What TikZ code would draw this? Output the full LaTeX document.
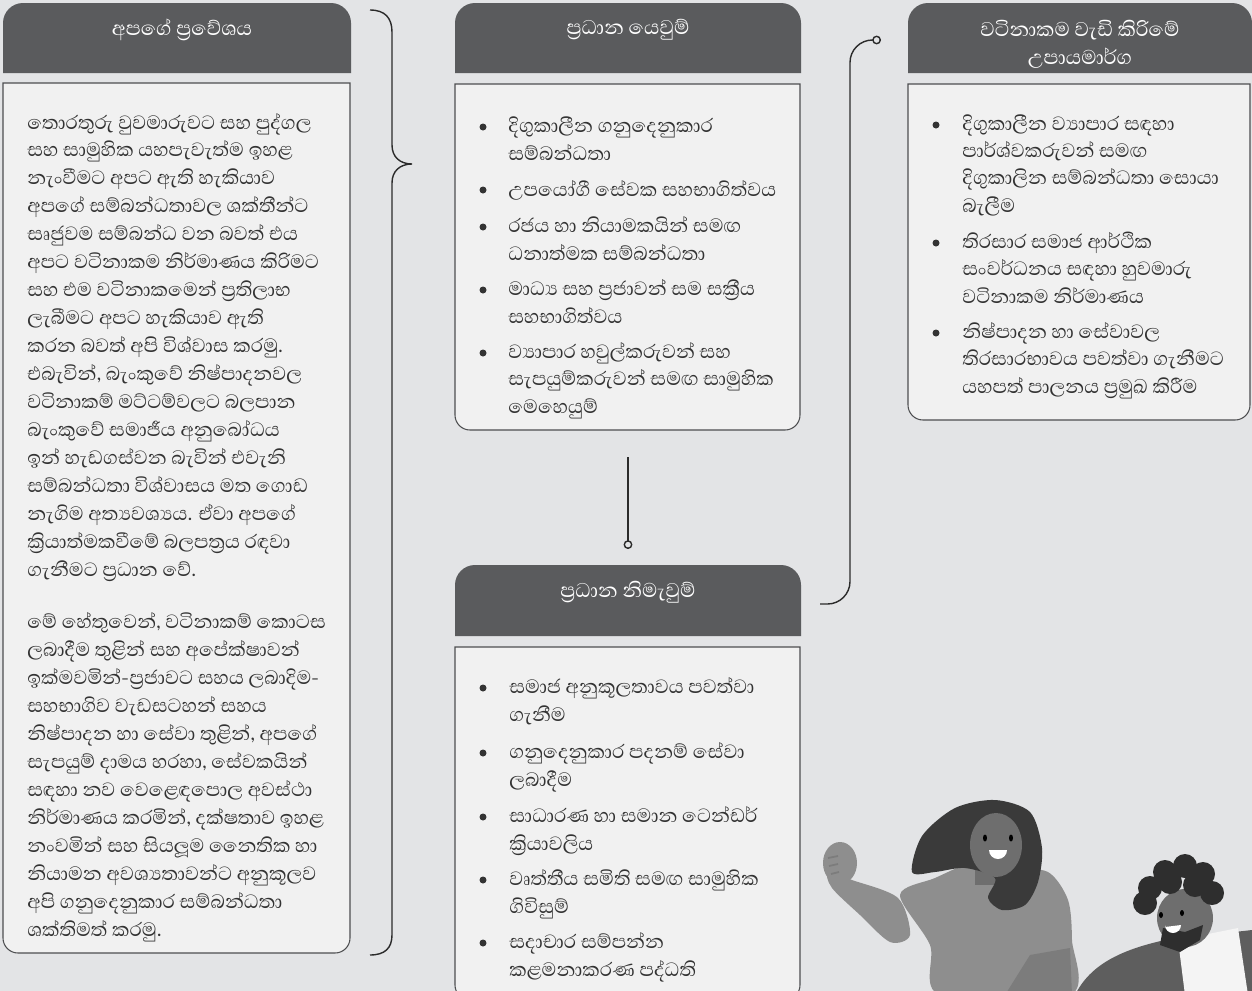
\documentclass[tikz,border=0pt]{standalone}
\usepackage{fontspec}
\usepackage{tikz}
\usetikzlibrary{arrows.meta}

\newfontfamily\sinfont[Script=Sinhala]{Abhaya Libre}

\definecolor{bgcol}{HTML}{E3E4E6}
\definecolor{headcol}{HTML}{5A5B5D}
\definecolor{boxcol}{HTML}{F1F1F1}
\definecolor{edgecol}{HTML}{4D4E50}
\definecolor{textcol}{HTML}{333333}
\definecolor{linecol}{HTML}{2B2B2B}
\definecolor{hairdark}{HTML}{3A3A3A}
\definecolor{skin}{HTML}{6E6E6E}
\definecolor{shirt}{HTML}{8E8E8E}
\definecolor{shirtshade}{HTML}{7C7C7C}
\definecolor{jacket}{HTML}{5E5E5E}
\definecolor{collar}{HTML}{F4F4F4}

% nodes are anchored on the baseline of their last line
\tikzset{
  headtext/.style={text=white, font=\sinfont\fontsize{14.5}{16}\selectfont, align=center, inner sep=0pt},
  bodytext/.style={text=textcol, font=\sinfont\fontsize{14}{15.9}\selectfont, align=left, anchor=base west, inner sep=0pt},
  itemtext/.style={bodytext, font=\sinfont\fontsize{14}{15.4}\selectfont},
  bodybox/.style={fill=boxcol, draw=edgecol, line width=0.6pt},
  connector/.style={draw=linecol, line width=0.8pt},
}

\begin{document}
\begin{tikzpicture}[x=0.02cm, y=-0.02cm]
  \useasboundingbox (0,0) rectangle (1252,991);
  \fill[bgcol] (0,0) rectangle (1252,991);

  % left column: approach
  \fill[headcol] (3,73) [rounded corners=0.4cm] -- (3,3) -- (351,3) [sharp corners] -- (351,73) -- cycle;
  \draw[bodybox] (350,83) -- (3,83) [rounded corners=0.3cm] -- (3,953) -- (350,953) [sharp corners] -- (350,83) -- cycle;
  \node[headtext] (approachhead) at (182,30) {අපගේ ප්‍රවේශය};
  \node[bodytext] (approach1) at (27,576) {තොරතුරු වුවමාරුවට සහ පුද්ගල\\
    සහ සාමුහික යහපැවැත්ම ඉහළ\\
    නැංවීමට අපට ඇති හැකියාව\\
    අපගේ සම්බන්ධතාවල ශක්තීන්ට\\
    සෘජුවම සම්බන්ධ වන බවත් එය\\
    අපට වටිනාකම නිර්මාණය කිරිමට\\
    සහ එම වටිනාකමෙන් ප්‍රතිලාභ\\
    ලැබීමට අපට හැකියාව ඇති\\
    කරන බවත් අපි විශ්වාස කරමු.\\
    එබැවින්, බැංකුවේ නිෂ්පාදනවල\\
    වටිනාකම් මට්ටම්වලට බලපාන\\
    බැංකුවේ සමාජීය අනුබෝධය\\
    ඉන් හැඩගස්වන බැවින් එවැනි\\
    සම්බන්ධතා විශ්වාසය මත ගොඩ\\
    නැගිම අත්‍යවශ්‍යය. ඒවා අපගේ\\
    ක්‍රියාත්මකවීමේ බලපත්‍රය රඳවා\\
    ගැනීමට ප්‍රධාන වේ.};
  \node[bodytext] (approach2) at (27,936) {මේ හේතුවෙන්, වටිනාකම් කොටස\\
    ලබාදීම තුළින් සහ අපේක්ෂාවන්\\
    ඉක්මවමින්-ප්‍රජාවට සහය ලබාදිම-\\
    සහභාගිව වැඩසටහන් සහය\\
    නිෂ්පාදන හා සේවා තුළින්, අපගේ\\
    සැපයුම් දාමය හරහා, සේවකයින්\\
    සඳහා නව වෙළෙඳපොල අවස්ථා\\
    නිර්මාණය කරමින්, දක්ෂතාව ඉහළ\\
    නංවමින් සහ සියලූම නෛතික හා\\
    නියාමන අවශ්‍යතාවන්ට අනුකූලව\\
    අපි ගනුදෙනුකාර සම්බන්ධතා\\
    ශක්තිමත් කරමු.};

  % brace towards the focus areas
  \draw[connector] (370,10) .. controls (385,10) and (392,18) .. (392,32) -- (392,145)
    .. controls (392,157) and (400,164) .. (412,164)
    .. controls (400,164) and (392,171) .. (392,183) -- (392,935)
    .. controls (392,948) and (385,955) .. (370,955);

  % middle column: focus areas
  \fill[headcol] (455,73) [rounded corners=0.4cm] -- (455,3) -- (801,3) [sharp corners] -- (801,73) -- cycle;
  \draw[bodybox] (800,84) -- (455,84) [rounded corners=0.3cm] -- (455,430) -- (800,430) [sharp corners] -- (800,84) -- cycle;
  \node[headtext] (focushead) at (628,30) {ප්‍රධාන යෙවුම්};
  \foreach \y in {127,190,227,290,353}
    \fill[textcol] (483,\y) circle[radius=3.5];
  \node[itemtext] (focus1) at (508,160) {දිගුකාලීන ගනුදෙනුකාර\\ සම්බන්ධතා};
  \node[itemtext] (focus2) at (508,196) {උපයෝගී සේවක සහභාගිත්වය};
  \node[itemtext] (focus3) at (508,260) {රජය හා නියාමකයින් සමඟ\\ ධනාත්මක සම්බන්ධතා};
  \node[itemtext] (focus4) at (508,323) {මාධ්‍ය සහ ප්‍රජාවන් සම සක්‍රීය\\ සහභාගිත්වය};
  \node[itemtext] (focus5) at (508,413) {ව්‍යාපාර හවුල්කරුවන් සහ\\ සැපයුම්කරුවන් සමඟ සාමුහික\\ මෙහෙයුම්};

  % link down to the outcomes
  \coordinate (linktop) at (628,457);
  \coordinate (linkend) at (628,549);
  \draw[connector, -{Circle[open, length=5pt, width=5pt]}] (linktop) -- (linkend);

  % bottom middle: outcomes
  \fill[headcol] (455,636) [rounded corners=0.4cm] -- (455,565) -- (801,565) [sharp corners] -- (801,636) -- cycle;
  \draw[bodybox] (800,647) -- (455,647) [rounded corners=0.3cm] -- (455,1000) -- (800,1000) [sharp corners] -- (800,647) -- cycle;
  \node[headtext] (outcomehead) at (628,592) {ප්‍රධාන නිමැවුම්};
  \foreach \y in {688,753,817,880,943}
    \fill[textcol] (483,\y) circle[radius=3.5];
  \node[itemtext] (outcome1) at (509,721) {සමාජ අනුකූලතාවය පවත්වා\\ ගැනීම};
  \node[itemtext] (outcome2) at (509,786) {ගනුදෙනුකාර පදනම් සේවා\\ ලබාදීම};
  \node[itemtext] (outcome3) at (509,850) {සාධාරණ හා සමාන ටෙන්ඩර්\\ ක්‍රියාවලිය};
  \node[itemtext] (outcome4) at (509,913) {වෘත්තීය සමිති සමඟ සාමුහික\\ ගිවිසුම්};
  \node[itemtext] (outcome5) at (509,976) {සදාචාර සම්පන්න\\ කළමනාකරණ පද්ධති};

  % curved link from outcomes up to the strategies
  \coordinate (curvestart) at (820,604);
  \coordinate (curveend) at (881,40);
  \draw[connector, rounded corners=0.45cm, -{Circle[open, length=5pt, width=5pt]}]
    (curvestart) -- (850,604) -- (850,40) -- (curveend);

  % right column: strategies
  \fill[headcol] (908,73) [rounded corners=0.4cm] -- (908,3) -- (1252,3) [sharp corners] -- (1252,73) -- cycle;
  \draw[bodybox] (1250,84) -- (908,84) [rounded corners=0.3cm] -- (908,420) -- (1250,420) [sharp corners] -- (1250,84) -- cycle;
  \node[headtext] (valuehead) at (1080,44) {වටිනාකම වැඩි කිරිමේ\\ උපායමාර්ග};
  \foreach \y in {125,243,333}
    \fill[textcol] (936,\y) circle[radius=3.5];
  \node[itemtext] (value1) at (962,212) {දිගුකාලීන ව්‍යාපාර සඳහා\\ පාර්ශ්වකරුවන් සමඟ\\ දිගුකාලින සම්බන්ධතා සොයා\\ බැලීම};
  \node[itemtext] (value2) at (962,303) {තිරසාර සමාජ ආර්ථික\\ සංවර්ධනය සඳහා හුවමාරු\\ වටිනාකම නිර්මාණය};
  \node[itemtext] (value3) at (962,393) {නිෂ්පාදන හා සේවාවල\\ තිරසාරභාවය පවත්වා ගැනීමට\\ යහපත් පාලනය ප්‍රමුඛ කිරීම};

  % two people, lower right
  \fill[shirt] plot[smooth cycle] coordinates {(900,895) (935,878) (975,862) (1010,868) (1048,872) (1068,900) (1072,940) (1070,995) (940,995) (930,945)};
  \fill[shirtshade] (1005,995) -- (1030,955) -- (1070,948) -- (1072,995) -- cycle;
  \fill[shirt] plot[smooth cycle] coordinates {(828,872) (852,880) (898,898) (910,935) (890,942) (860,915) (832,888)};
  \fill[shirt] (840,863) ellipse[x radius=17, y radius=21];
  \draw[shirtshade, line width=1pt] (828,858) -- (838,856) (829,866) -- (838,864) (831,874) -- (839,872);
  \fill[skin] (975,860) rectangle (1002,885);
  \fill[hairdark] plot[smooth cycle] coordinates {(912,872) (922,836) (955,808) (995,800) (1030,812) (1042,848) (1038,882) (1025,905) (1002,910) (988,898) (995,878) (965,868) (935,872)};
  \fill[skin] (996,845) ellipse[x radius=26, y radius=32];
  \fill[black] (985,838) ellipse[x radius=2, y radius=3.5] (1011,838) ellipse[x radius=2, y radius=3.5];
  \fill[white] (989,850) -- (1007,850) arc[start angle=0, end angle=180, radius=9] -- cycle;

  \fill[jacket] (1075,995) .. controls (1090,965) and (1120,950) .. (1165,940) -- (1252,930) -- (1252,995) -- cycle;
  \fill[collar] (1178,940) -- (1238,928) -- (1248,995) -- (1185,995) -- cycle;
  \fill[skin] (1185,918) ellipse[x radius=28, y radius=29];
  \fill[hairdark!80!black] (1160,945) -- (1163,928) -- (1185,932) -- (1203,925) -- (1200,940) -- (1180,952) -- cycle;
  \foreach \p in {(1150,888),(1165,872),(1185,866),(1203,874),(1212,893),(1145,903),(1170,882),(1195,885)}
    \fill[hairdark!80!black] \p circle[radius=12];
  \fill[black] (1161,915) ellipse[x radius=2, y radius=3] (1182,913) ellipse[x radius=2, y radius=3];
  \fill[white] (1165,927) -- (1181,925) arc[start angle=0, end angle=180, radius=8] -- cycle;
\end{tikzpicture}
\end{document}
